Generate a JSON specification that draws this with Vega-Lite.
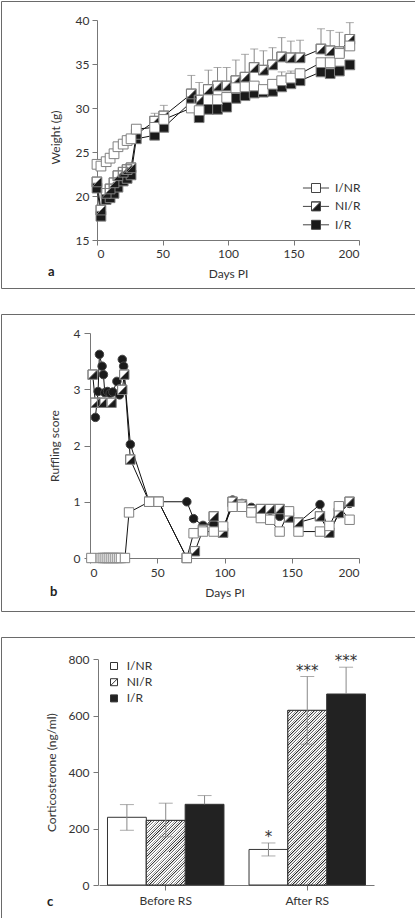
{
"$schema": "https://vega.github.io/schema/vega-lite/v6.json",
"padding": 0,
"background": "white",
"spacing": 24,
"resolve": {"scale": {"fill": "independent", "shape": "independent"}, "legend": {"fill": "independent", "shape": "independent"}},
"config": {
 "font": "Lato",
 "view": {"stroke": "#6a6a6a", "strokeWidth": 1},
 "axis": {"domainColor": "#777", "tickColor": "#777", "labelColor": "#333", "titleColor": "#333", "labelFontSize": 12, "titleFontSize": 12, "titleFontWeight": "normal", "grid": false, "labelFont": "Lato", "titleFont": "Lato"},
 "legend": {"labelFont": "Lato", "labelColor": "#333"},
 "title": {"font": "Lato"},
 "text": {"font": "Lato"}
},
"datasets": {
 "aw": [
  {"day":0,"g":"I/R","v":20.9},{"day":3,"g":"I/R","v":17.7},{"day":7,"g":"I/R","v":19.6},{"day":10,"g":"I/R","v":19.8},{"day":13,"g":"I/R","v":20.3},{"day":16,"g":"I/R","v":21.0},{"day":20,"g":"I/R","v":21.7},{"day":23,"g":"I/R","v":22.0},{"day":26,"g":"I/R","v":22.4},{"day":30,"g":"I/R","v":26.5},{"day":44,"g":"I/R","v":26.9},{"day":51,"g":"I/R","v":27.8},{"day":72,"g":"I/R","v":30.7},{"day":78,"g":"I/R","v":28.9},{"day":85,"g":"I/R","v":29.85},{"day":92,"g":"I/R","v":29.85},{"day":99,"g":"I/R","v":30.1},{"day":106,"g":"I/R","v":31.1},{"day":113,"g":"I/R","v":31.4},{"day":120,"g":"I/R","v":31.7},{"day":127,"g":"I/R","v":31.8},{"day":134,"g":"I/R","v":31.9},{"day":141,"g":"I/R","v":32.4},{"day":148,"g":"I/R","v":32.75},{"day":155,"g":"I/R","v":33.1},{"day":171,"g":"I/R","v":34.1},{"day":178,"g":"I/R","v":33.9},{"day":185,"g":"I/R","v":34.2},{"day":193,"g":"I/R","v":34.9},
  {"day":0,"g":"NI/R","v":21.6},{"day":3,"g":"NI/R","v":18.4},{"day":7,"g":"NI/R","v":20.3},{"day":10,"g":"NI/R","v":20.8},{"day":13,"g":"NI/R","v":21.5},{"day":16,"g":"NI/R","v":22.3},{"day":20,"g":"NI/R","v":22.7},{"day":23,"g":"NI/R","v":23.0},{"day":26,"g":"NI/R","v":23.2},{"day":30,"g":"NI/R","v":27.0},{"day":44,"g":"NI/R","v":28.5},{"day":51,"g":"NI/R","v":29.1},{"day":72,"g":"NI/R","v":31.6},{"day":78,"g":"NI/R","v":30.9},{"day":85,"g":"NI/R","v":32.1},{"day":92,"g":"NI/R","v":32.5},{"day":99,"g":"NI/R","v":32.5},{"day":106,"g":"NI/R","v":33.1},{"day":113,"g":"NI/R","v":33.5},{"day":120,"g":"NI/R","v":34.6},{"day":127,"g":"NI/R","v":34.3},{"day":134,"g":"NI/R","v":34.9},{"day":141,"g":"NI/R","v":35.8},{"day":148,"g":"NI/R","v":35.7},{"day":155,"g":"NI/R","v":35.7},{"day":171,"g":"NI/R","v":36.7},{"day":178,"g":"NI/R","v":36.5},{"day":185,"g":"NI/R","v":36.4},{"day":193,"g":"NI/R","v":37.8},
  {"day":0,"g":"I/NR","v":23.6},{"day":3,"g":"I/NR","v":23.4},{"day":7,"g":"I/NR","v":23.9},{"day":10,"g":"I/NR","v":24.3},{"day":13,"g":"I/NR","v":24.8},{"day":16,"g":"I/NR","v":25.6},{"day":20,"g":"I/NR","v":25.9},{"day":23,"g":"I/NR","v":26.3},{"day":26,"g":"I/NR","v":26.5},{"day":30,"g":"I/NR","v":27.6},{"day":44,"g":"I/NR","v":27.8},{"day":51,"g":"I/NR","v":28.7},{"day":72,"g":"I/NR","v":30.0},{"day":78,"g":"I/NR","v":29.7},{"day":85,"g":"I/NR","v":30.95},{"day":92,"g":"I/NR","v":30.95},{"day":99,"g":"I/NR","v":31.2},{"day":106,"g":"I/NR","v":32.3},{"day":113,"g":"I/NR","v":32.4},{"day":120,"g":"I/NR","v":32.5},{"day":127,"g":"I/NR","v":32.1},{"day":134,"g":"I/NR","v":32.7},{"day":141,"g":"I/NR","v":33.1},{"day":148,"g":"I/NR","v":33.4},{"day":155,"g":"I/NR","v":33.9},{"day":171,"g":"I/NR","v":35.15},{"day":178,"g":"I/NR","v":35.15},{"day":185,"g":"I/NR","v":36.2},{"day":193,"g":"I/NR","v":37.05}
 ],
 "aerr": [
  {"day":44,"g":"NI/R","v":28.5,"hi":29.4},{"day":51,"g":"NI/R","v":29.1,"hi":30.3},{"day":72,"g":"NI/R","v":31.6,"hi":33.7},{"day":78,"g":"NI/R","v":30.9,"hi":32.9},{"day":85,"g":"NI/R","v":32.1,"hi":34.3},{"day":92,"g":"NI/R","v":32.5,"hi":34.6},{"day":99,"g":"NI/R","v":32.5,"hi":34.6},{"day":106,"g":"NI/R","v":33.1,"hi":35.45},{"day":113,"g":"NI/R","v":33.5,"hi":36.1},{"day":120,"g":"NI/R","v":34.6,"hi":36.7},{"day":127,"g":"NI/R","v":34.3,"hi":36.5},{"day":134,"g":"NI/R","v":34.9,"hi":36.85},{"day":141,"g":"NI/R","v":35.8,"hi":38.0},{"day":148,"g":"NI/R","v":35.7,"hi":37.6},{"day":155,"g":"NI/R","v":35.7,"hi":37.7},{"day":171,"g":"NI/R","v":36.7,"hi":39.0},{"day":178,"g":"NI/R","v":36.5,"hi":38.8},{"day":185,"g":"NI/R","v":36.4,"hi":38.6},{"day":193,"g":"NI/R","v":37.8,"hi":39.7},
  {"day":141,"g":"I/NR","v":33.1,"hi":34.1},{"day":148,"g":"I/NR","v":33.4,"hi":34.2},{"day":155,"g":"I/NR","v":33.9,"hi":34.4}
 ],
 "bw": [
  {"day":4,"g":"I/R","v":2.5},{"day":6,"g":"I/R","v":2.96},{"day":7,"g":"I/R","v":3.62},{"day":9,"g":"I/R","v":3.41},{"day":10,"g":"I/R","v":3.26},{"day":11,"g":"I/R","v":2.94},{"day":13,"g":"I/R","v":2.96},{"day":15,"g":"I/R","v":2.93},{"day":17,"g":"I/R","v":2.95},{"day":20,"g":"I/R","v":3.14},{"day":22,"g":"I/R","v":2.9},{"day":24,"g":"I/R","v":3.53},{"day":25,"g":"I/R","v":3.41},{"day":30,"g":"I/R","v":2.02},{"day":44,"g":"I/R","v":1.0},{"day":51,"g":"I/R","v":1.0},{"day":72,"g":"I/R","v":1.0},{"day":77,"g":"I/R","v":0.7},{"day":84,"g":"I/R","v":0.58},{"day":92,"g":"I/R","v":0.6},{"day":99,"g":"I/R","v":0.5},{"day":106,"g":"I/R","v":1.03},{"day":113,"g":"I/R","v":0.97},{"day":120,"g":"I/R","v":0.9},{"day":127,"g":"I/R","v":0.85},{"day":134,"g":"I/R","v":0.85},{"day":141,"g":"I/R","v":0.74},{"day":148,"g":"I/R","v":0.72},{"day":155,"g":"I/R","v":0.63},{"day":171,"g":"I/R","v":0.95},{"day":178,"g":"I/R","v":0.45},{"day":185,"g":"I/R","v":0.79},{"day":193,"g":"I/R","v":0.97},
  {"day":2,"g":"NI/R","v":3.26},{"day":4,"g":"NI/R","v":2.76},{"day":9,"g":"NI/R","v":2.76},{"day":16,"g":"NI/R","v":2.76},{"day":24,"g":"NI/R","v":2.99},{"day":25.5,"g":"NI/R","v":3.26},{"day":30,"g":"NI/R","v":1.75},{"day":44,"g":"NI/R","v":1.0},{"day":51,"g":"NI/R","v":1.0},{"day":72,"g":"NI/R","v":0},{"day":78,"g":"NI/R","v":0.12},{"day":84,"g":"NI/R","v":0.5},{"day":92,"g":"NI/R","v":0.74},{"day":99,"g":"NI/R","v":0.45},{"day":106,"g":"NI/R","v":1.0},{"day":113,"g":"NI/R","v":0.95},{"day":120,"g":"NI/R","v":0.85},{"day":127,"g":"NI/R","v":0.87},{"day":134,"g":"NI/R","v":0.87},{"day":141,"g":"NI/R","v":0.87},{"day":148,"g":"NI/R","v":0.72},{"day":155,"g":"NI/R","v":0.63},{"day":171,"g":"NI/R","v":0.74},{"day":178,"g":"NI/R","v":0.45},{"day":185,"g":"NI/R","v":0.8},{"day":193,"g":"NI/R","v":1.0},
  {"day":1,"g":"I/NR","v":0},{"day":8,"g":"I/NR","v":0},{"day":9.5,"g":"I/NR","v":0},{"day":11,"g":"I/NR","v":0},{"day":12.5,"g":"I/NR","v":0},{"day":14,"g":"I/NR","v":0},{"day":15.5,"g":"I/NR","v":0},{"day":17,"g":"I/NR","v":0},{"day":18.5,"g":"I/NR","v":0},{"day":20,"g":"I/NR","v":0},{"day":21.5,"g":"I/NR","v":0},{"day":23,"g":"I/NR","v":0},{"day":26,"g":"I/NR","v":0},{"day":29,"g":"I/NR","v":0.81},{"day":44,"g":"I/NR","v":1.0},{"day":51,"g":"I/NR","v":1.0},{"day":72,"g":"I/NR","v":0},{"day":77,"g":"I/NR","v":0.44},{"day":84,"g":"I/NR","v":0.47},{"day":92,"g":"I/NR","v":0.47},{"day":99,"g":"I/NR","v":0.56},{"day":106,"g":"I/NR","v":0.91},{"day":113,"g":"I/NR","v":0.91},{"day":120,"g":"I/NR","v":0.81},{"day":127,"g":"I/NR","v":0.71},{"day":134,"g":"I/NR","v":0.68},{"day":141,"g":"I/NR","v":0.47},{"day":148,"g":"I/NR","v":0.83},{"day":155,"g":"I/NR","v":0.47},{"day":171,"g":"I/NR","v":0.47},{"day":178,"g":"I/NR","v":0.57},{"day":185,"g":"I/NR","v":0.92},{"day":193,"g":"I/NR","v":0.68}
 ],
 "cw": [
  {"cond":"Before RS","g":"I/NR","v":240,"lo":194,"hi":285},
  {"cond":"Before RS","g":"NI/R","v":229,"lo":171,"hi":290},
  {"cond":"Before RS","g":"I/R","v":286,"lo":286,"hi":317},
  {"cond":"After RS","g":"I/NR","v":126,"lo":103,"hi":149,"sig":"*"},
  {"cond":"After RS","g":"NI/R","v":619,"lo":499,"hi":739,"sig":"***"},
  {"cond":"After RS","g":"I/R","v":677,"lo":677,"hi":772,"sig":"***"}
 ]
},
"vconcat": [
 {
  "width": 414, "height": 287,
  "title": {"text": "a", "orient": "bottom", "anchor": "start", "frame": "group", "offset": -12, "dx": 47, "baseline": "alphabetic", "fontSize": 13, "fontWeight": "bold", "color": "#222"},
  "encoding": {
   "x": {"field": "day", "type": "quantitative", "scale": {"domain": [0, 200], "range": [96, 358], "nice": false, "zero": false}, "axis": {"title": "Days PI", "values": [0, 50, 100, 150, 200], "offset": -48, "tickSize": 5, "labelPadding": 3, "titleY": 33, "titleBaseline": "middle"}},
   "y": {"field": "v", "type": "quantitative", "scale": {"domain": [15, 40], "range": [239, 19], "nice": false, "zero": false}, "axis": {"title": "Weight (g)", "values": [15, 20, 25, 30, 35, 40], "offset": -96, "tickSize": 5, "labelPadding": 3, "titleX": -42, "titleY": 136, "titleBaseline": "middle"}}
  },
  "layer": [
   {"data": {"name": "aerr"}, "mark": {"type": "rule", "color": "#888", "strokeWidth": 1}, "encoding": {"y2": {"field": "hi"}}},
   {"data": {"name": "aerr"}, "mark": {"type": "tick", "orient": "horizontal", "color": "#888", "size": 8, "thickness": 1}, "encoding": {"y": {"field": "hi", "type": "quantitative"}}},
   {"data": {"name": "aw"}, "mark": {"type": "line", "color": "#111", "strokeWidth": 1}, "encoding": {"detail": {"field": "g"}}},
   {"data": {"name": "aw"}, "transform": [{"filter": "datum.g === 'NI/R'"}], "mark": {"type": "point", "shape": "square", "filled": true, "color": "#ffffff", "size": 95, "opacity": 1}, "encoding": {}},
   {"data": {"name": "aw"}, "mark": {"type": "point", "filled": true, "size": 95, "stroke": "#808080", "strokeWidth": 1, "opacity": 1},
    "encoding": {
     "shape": {"field": "g", "type": "nominal", "scale": {"domain": ["NI/R", "I/NR", "I/R"], "range": ["M-1,-1L1,-1L1,1L-1,1ZM-1,-1L-1,1L1,-1Z", "square", "square"]}, "legend": null},
     "fill": {"field": "g", "type": "nominal", "scale": {"domain": ["I/NR", "NI/R", "I/R"], "range": ["#ffffff", "#1a1a1a", "#1a1a1a"]},
      "legend": {"orient": "none", "legendX": 309, "legendY": 181, "title": null, "symbolType": {"expr": "datum.value === 'NI/R' ? 'M-2.9,0L-1,0M1,0L2.9,0M-1,-1L1,-1L1,1L-1,1ZM-1,-1L-1,1L1,-1Z' : 'M-2.9,0L-1,0M1,0L2.9,0M-1,-1L1,-1L1,1L-1,1Z'"}, "symbolSize": 81, "symbolStrokeColor": "#444", "symbolStrokeWidth": 1, "symbolOpacity": 1, "labelFontSize": 12, "labelOffset": 13, "rowPadding": 4.4, "padding": 0}}
    }},
   {"data": {"values": [{}]}, "mark": {"type": "rule", "color": "#888", "strokeWidth": 1.5}, "encoding": {"x": {"datum": -2.5}, "x2": {"datum": 30.3}, "y": {"datum": 12.42}}}
  ]
 },
 {
  "width": 414, "height": 297,
  "title": {"text": "b", "orient": "bottom", "anchor": "start", "frame": "group", "offset": -15, "dx": 49, "baseline": "alphabetic", "fontSize": 13, "fontWeight": "bold", "color": "#222"},
  "encoding": {
   "x": {"field": "day", "type": "quantitative", "scale": {"domain": [0, 200], "range": [89, 358], "nice": false, "zero": false}, "axis": {"title": "Days PI", "values": [0, 50, 100, 150, 200], "offset": -53, "tickSize": 5, "labelPadding": 4.5, "titleY": 34, "titleBaseline": "middle"}},
   "y": {"field": "v", "type": "quantitative", "scale": {"domain": [0, 4], "range": [244, 19], "nice": false, "zero": false}, "axis": {"title": "Ruffling score", "values": [0, 1, 2, 3, 4], "offset": -89, "tickSize": 6, "labelPadding": 4, "titleX": -36, "titleBaseline": "middle"}}
  },
  "layer": [
   {"data": {"name": "bw"}, "mark": {"type": "line", "color": "#111", "strokeWidth": 1}, "encoding": {"detail": {"field": "g"}}},
   {"data": {"name": "bw"}, "transform": [{"filter": "datum.g === 'I/R'"}], "mark": {"type": "point", "shape": "circle", "filled": true, "color": "#1a1a1a", "stroke": "#444", "strokeWidth": 1, "size": 72, "opacity": 1}, "encoding": {}},
   {"data": {"name": "bw"}, "transform": [{"filter": "datum.g === 'NI/R'"}], "mark": {"type": "point", "shape": "square", "filled": true, "color": "#ffffff", "size": 88, "opacity": 1}, "encoding": {}},
   {"data": {"name": "bw"}, "transform": [{"filter": "datum.g !== 'I/R'"}], "mark": {"type": "point", "filled": true, "size": 88, "stroke": "#808080", "strokeWidth": 1, "opacity": 1},
    "encoding": {
     "shape": {"field": "g", "type": "nominal", "scale": {"domain": ["I/NR", "NI/R"], "range": ["square", "M-1,-1L1,-1L1,1L-1,1ZM-1,-1L-1,1L1,-1Z"]}, "legend": null},
     "fill": {"field": "g", "type": "nominal", "scale": {"domain": ["I/NR", "NI/R"], "range": ["#ffffff", "#1a1a1a"]}, "legend": null}
    }},
   {"data": {"values": [{}]}, "mark": {"type": "rule", "color": "#888", "strokeWidth": 1.5}, "encoding": {"x": {"datum": -5.4}, "x2": {"datum": 27.5}, "y": {"datum": -0.343}}}
  ]
 },
 {
  "width": 414, "height": 285,
  "data": {"name": "cw"},
  "title": {"text": "c", "orient": "bottom", "anchor": "start", "frame": "group", "offset": -16.5, "dx": 46, "baseline": "alphabetic", "fontSize": 13, "fontWeight": "bold", "color": "#222"},
  "encoding": {
   "x": {"field": "cond", "type": "nominal", "sort": ["Before RS", "After RS"], "scale": {"range": [98, 373], "paddingInner": 0.177, "paddingOuter": 0.06}, "axis": {"title": null, "labelAngle": 0, "offset": -37, "tickSize": 5, "labelPadding": 5, "labelFontSize": 12}},
   "xOffset": {"field": "g", "type": "nominal", "sort": ["I/NR", "NI/R", "I/R"], "scale": {"domain": ["I/NR", "NI/R", "I/R"], "paddingInner": 0, "paddingOuter": 0}},
   "y": {"field": "v", "type": "quantitative", "scale": {"domain": [0, 800], "range": [248, 22.3], "nice": false, "zero": true}, "axis": {"title": "Corticosterone (ng/ml)", "values": [0, 200, 400, 600, 800], "offset": -97, "tickSize": 5, "labelPadding": 4, "titleX": -47, "titleBaseline": "middle", "labelFontSize": 12, "titleFontSize": 12}}
  },
  "layer": [
   {"mark": {"type": "bar", "stroke": "#333", "strokeWidth": 1},
    "encoding": {"fill": {"field": "g", "type": "nominal", "scale": {"domain": ["I/NR", "NI/R", "I/R"], "range": ["#ffffff", "#ffffff", "#222222"]},
     "legend": {"orient": "none", "legendX": 107, "legendY": 23, "title": null, "symbolType": {"expr": "datum.value === 'NI/R' ? 'M-1,-1L1,-1L1,1L-1,1ZM-1,1L1,-1' : 'square'"}, "symbolSize": 49, "symbolStrokeColor": "#333", "symbolStrokeWidth": 1, "symbolOpacity": 1, "labelFontSize": 12, "labelOffset": 6.7, "rowPadding": 4.2, "padding": 0}}}},
   {"transform": [{"filter": "datum.g === 'NI/R' && datum.cond === 'Before RS'"}],
    "mark": {"type": "bar", "stroke": "#333", "strokeWidth": 1, "fill": {"gradient": "linear", "x1": 0, "y1": 0, "x2": 0.7068, "y2": 1.1758, "stops": [
{"offset":0,"color":"#222"},{"offset":0.014,"color":"#fff"},{"offset":0.025,"color":"#fff"},
{"offset":0.025,"color":"#222"},{"offset":0.039,"color":"#fff"},{"offset":0.05,"color":"#fff"},
{"offset":0.05,"color":"#222"},{"offset":0.064,"color":"#fff"},{"offset":0.075,"color":"#fff"},
{"offset":0.075,"color":"#222"},{"offset":0.089,"color":"#fff"},{"offset":0.1,"color":"#fff"},
{"offset":0.1,"color":"#222"},{"offset":0.114,"color":"#fff"},{"offset":0.125,"color":"#fff"},
{"offset":0.125,"color":"#222"},{"offset":0.139,"color":"#fff"},{"offset":0.15,"color":"#fff"},
{"offset":0.15,"color":"#222"},{"offset":0.164,"color":"#fff"},{"offset":0.175,"color":"#fff"},
{"offset":0.175,"color":"#222"},{"offset":0.189,"color":"#fff"},{"offset":0.2,"color":"#fff"},
{"offset":0.2,"color":"#222"},{"offset":0.214,"color":"#fff"},{"offset":0.225,"color":"#fff"},
{"offset":0.225,"color":"#222"},{"offset":0.239,"color":"#fff"},{"offset":0.25,"color":"#fff"},
{"offset":0.25,"color":"#222"},{"offset":0.264,"color":"#fff"},{"offset":0.275,"color":"#fff"},
{"offset":0.275,"color":"#222"},{"offset":0.289,"color":"#fff"},{"offset":0.3,"color":"#fff"},
{"offset":0.3,"color":"#222"},{"offset":0.314,"color":"#fff"},{"offset":0.325,"color":"#fff"},
{"offset":0.325,"color":"#222"},{"offset":0.339,"color":"#fff"},{"offset":0.35,"color":"#fff"},
{"offset":0.35,"color":"#222"},{"offset":0.364,"color":"#fff"},{"offset":0.375,"color":"#fff"},
{"offset":0.375,"color":"#222"},{"offset":0.389,"color":"#fff"},{"offset":0.4,"color":"#fff"},
{"offset":0.4,"color":"#222"},{"offset":0.414,"color":"#fff"},{"offset":0.425,"color":"#fff"},
{"offset":0.425,"color":"#222"},{"offset":0.439,"color":"#fff"},{"offset":0.45,"color":"#fff"},
{"offset":0.45,"color":"#222"},{"offset":0.464,"color":"#fff"},{"offset":0.475,"color":"#fff"},
{"offset":0.475,"color":"#222"},{"offset":0.489,"color":"#fff"},{"offset":0.5,"color":"#fff"},
{"offset":0.5,"color":"#222"},{"offset":0.514,"color":"#fff"},{"offset":0.525,"color":"#fff"},
{"offset":0.525,"color":"#222"},{"offset":0.539,"color":"#fff"},{"offset":0.55,"color":"#fff"},
{"offset":0.55,"color":"#222"},{"offset":0.564,"color":"#fff"},{"offset":0.575,"color":"#fff"},
{"offset":0.575,"color":"#222"},{"offset":0.589,"color":"#fff"},{"offset":0.6,"color":"#fff"},
{"offset":0.6,"color":"#222"},{"offset":0.614,"color":"#fff"},{"offset":0.625,"color":"#fff"},
{"offset":0.625,"color":"#222"},{"offset":0.639,"color":"#fff"},{"offset":0.65,"color":"#fff"},
{"offset":0.65,"color":"#222"},{"offset":0.664,"color":"#fff"},{"offset":0.675,"color":"#fff"},
{"offset":0.675,"color":"#222"},{"offset":0.689,"color":"#fff"},{"offset":0.7,"color":"#fff"},
{"offset":0.7,"color":"#222"},{"offset":0.714,"color":"#fff"},{"offset":0.725,"color":"#fff"},
{"offset":0.725,"color":"#222"},{"offset":0.739,"color":"#fff"},{"offset":0.75,"color":"#fff"},
{"offset":0.75,"color":"#222"},{"offset":0.764,"color":"#fff"},{"offset":0.775,"color":"#fff"},
{"offset":0.775,"color":"#222"},{"offset":0.789,"color":"#fff"},{"offset":0.8,"color":"#fff"},
{"offset":0.8,"color":"#222"},{"offset":0.814,"color":"#fff"},{"offset":0.825,"color":"#fff"},
{"offset":0.825,"color":"#222"},{"offset":0.839,"color":"#fff"},{"offset":0.85,"color":"#fff"},
{"offset":0.85,"color":"#222"},{"offset":0.864,"color":"#fff"},{"offset":0.875,"color":"#fff"},
{"offset":0.875,"color":"#222"},{"offset":0.889,"color":"#fff"},{"offset":0.9,"color":"#fff"},
{"offset":0.9,"color":"#222"},{"offset":0.914,"color":"#fff"},{"offset":0.925,"color":"#fff"},
{"offset":0.925,"color":"#222"},{"offset":0.939,"color":"#fff"},{"offset":0.95,"color":"#fff"},
{"offset":0.95,"color":"#222"},{"offset":0.964,"color":"#fff"},{"offset":0.975,"color":"#fff"},
{"offset":0.975,"color":"#222"},{"offset":0.989,"color":"#fff"},{"offset":1,"color":"#fff"}
    ]}}},
   {"transform": [{"filter": "datum.g === 'NI/R' && datum.cond === 'After RS'"}],
    "mark": {"type": "bar", "stroke": "#333", "strokeWidth": 1, "fill": {"gradient": "linear", "x1": 0, "y1": 0, "x2": 0.259, "y2": 1.1646, "stops": [
{"offset":0,"color":"#222"},{"offset":0.007,"color":"#fff"},{"offset":0.0125,"color":"#fff"},
{"offset":0.0125,"color":"#222"},{"offset":0.0195,"color":"#fff"},{"offset":0.025,"color":"#fff"},
{"offset":0.025,"color":"#222"},{"offset":0.032,"color":"#fff"},{"offset":0.0375,"color":"#fff"},
{"offset":0.0375,"color":"#222"},{"offset":0.0445,"color":"#fff"},{"offset":0.05,"color":"#fff"},
{"offset":0.05,"color":"#222"},{"offset":0.057,"color":"#fff"},{"offset":0.0625,"color":"#fff"},
{"offset":0.0625,"color":"#222"},{"offset":0.0695,"color":"#fff"},{"offset":0.075,"color":"#fff"},
{"offset":0.075,"color":"#222"},{"offset":0.082,"color":"#fff"},{"offset":0.0875,"color":"#fff"},
{"offset":0.0875,"color":"#222"},{"offset":0.0945,"color":"#fff"},{"offset":0.1,"color":"#fff"},
{"offset":0.1,"color":"#222"},{"offset":0.107,"color":"#fff"},{"offset":0.1125,"color":"#fff"},
{"offset":0.1125,"color":"#222"},{"offset":0.1195,"color":"#fff"},{"offset":0.125,"color":"#fff"},
{"offset":0.125,"color":"#222"},{"offset":0.132,"color":"#fff"},{"offset":0.1375,"color":"#fff"},
{"offset":0.1375,"color":"#222"},{"offset":0.1445,"color":"#fff"},{"offset":0.15,"color":"#fff"},
{"offset":0.15,"color":"#222"},{"offset":0.157,"color":"#fff"},{"offset":0.1625,"color":"#fff"},
{"offset":0.1625,"color":"#222"},{"offset":0.1695,"color":"#fff"},{"offset":0.175,"color":"#fff"},
{"offset":0.175,"color":"#222"},{"offset":0.182,"color":"#fff"},{"offset":0.1875,"color":"#fff"},
{"offset":0.1875,"color":"#222"},{"offset":0.1945,"color":"#fff"},{"offset":0.2,"color":"#fff"},
{"offset":0.2,"color":"#222"},{"offset":0.207,"color":"#fff"},{"offset":0.2125,"color":"#fff"},
{"offset":0.2125,"color":"#222"},{"offset":0.2195,"color":"#fff"},{"offset":0.225,"color":"#fff"},
{"offset":0.225,"color":"#222"},{"offset":0.232,"color":"#fff"},{"offset":0.2375,"color":"#fff"},
{"offset":0.2375,"color":"#222"},{"offset":0.2445,"color":"#fff"},{"offset":0.25,"color":"#fff"},
{"offset":0.25,"color":"#222"},{"offset":0.257,"color":"#fff"},{"offset":0.2625,"color":"#fff"},
{"offset":0.2625,"color":"#222"},{"offset":0.2695,"color":"#fff"},{"offset":0.275,"color":"#fff"},
{"offset":0.275,"color":"#222"},{"offset":0.282,"color":"#fff"},{"offset":0.2875,"color":"#fff"},
{"offset":0.2875,"color":"#222"},{"offset":0.2945,"color":"#fff"},{"offset":0.3,"color":"#fff"},
{"offset":0.3,"color":"#222"},{"offset":0.307,"color":"#fff"},{"offset":0.3125,"color":"#fff"},
{"offset":0.3125,"color":"#222"},{"offset":0.3195,"color":"#fff"},{"offset":0.325,"color":"#fff"},
{"offset":0.325,"color":"#222"},{"offset":0.332,"color":"#fff"},{"offset":0.3375,"color":"#fff"},
{"offset":0.3375,"color":"#222"},{"offset":0.3445,"color":"#fff"},{"offset":0.35,"color":"#fff"},
{"offset":0.35,"color":"#222"},{"offset":0.357,"color":"#fff"},{"offset":0.3625,"color":"#fff"},
{"offset":0.3625,"color":"#222"},{"offset":0.3695,"color":"#fff"},{"offset":0.375,"color":"#fff"},
{"offset":0.375,"color":"#222"},{"offset":0.382,"color":"#fff"},{"offset":0.3875,"color":"#fff"},
{"offset":0.3875,"color":"#222"},{"offset":0.3945,"color":"#fff"},{"offset":0.4,"color":"#fff"},
{"offset":0.4,"color":"#222"},{"offset":0.407,"color":"#fff"},{"offset":0.4125,"color":"#fff"},
{"offset":0.4125,"color":"#222"},{"offset":0.4195,"color":"#fff"},{"offset":0.425,"color":"#fff"},
{"offset":0.425,"color":"#222"},{"offset":0.432,"color":"#fff"},{"offset":0.4375,"color":"#fff"},
{"offset":0.4375,"color":"#222"},{"offset":0.4445,"color":"#fff"},{"offset":0.45,"color":"#fff"},
{"offset":0.45,"color":"#222"},{"offset":0.457,"color":"#fff"},{"offset":0.4625,"color":"#fff"},
{"offset":0.4625,"color":"#222"},{"offset":0.4695,"color":"#fff"},{"offset":0.475,"color":"#fff"},
{"offset":0.475,"color":"#222"},{"offset":0.482,"color":"#fff"},{"offset":0.4875,"color":"#fff"},
{"offset":0.4875,"color":"#222"},{"offset":0.4945,"color":"#fff"},{"offset":0.5,"color":"#fff"},
{"offset":0.5,"color":"#222"},{"offset":0.507,"color":"#fff"},{"offset":0.5125,"color":"#fff"},
{"offset":0.5125,"color":"#222"},{"offset":0.5195,"color":"#fff"},{"offset":0.525,"color":"#fff"},
{"offset":0.525,"color":"#222"},{"offset":0.532,"color":"#fff"},{"offset":0.5375,"color":"#fff"},
{"offset":0.5375,"color":"#222"},{"offset":0.5445,"color":"#fff"},{"offset":0.55,"color":"#fff"},
{"offset":0.55,"color":"#222"},{"offset":0.557,"color":"#fff"},{"offset":0.5625,"color":"#fff"},
{"offset":0.5625,"color":"#222"},{"offset":0.5695,"color":"#fff"},{"offset":0.575,"color":"#fff"},
{"offset":0.575,"color":"#222"},{"offset":0.582,"color":"#fff"},{"offset":0.5875,"color":"#fff"},
{"offset":0.5875,"color":"#222"},{"offset":0.5945,"color":"#fff"},{"offset":0.6,"color":"#fff"},
{"offset":0.6,"color":"#222"},{"offset":0.607,"color":"#fff"},{"offset":0.6125,"color":"#fff"},
{"offset":0.6125,"color":"#222"},{"offset":0.6195,"color":"#fff"},{"offset":0.625,"color":"#fff"},
{"offset":0.625,"color":"#222"},{"offset":0.632,"color":"#fff"},{"offset":0.6375,"color":"#fff"},
{"offset":0.6375,"color":"#222"},{"offset":0.6445,"color":"#fff"},{"offset":0.65,"color":"#fff"},
{"offset":0.65,"color":"#222"},{"offset":0.657,"color":"#fff"},{"offset":0.6625,"color":"#fff"},
{"offset":0.6625,"color":"#222"},{"offset":0.6695,"color":"#fff"},{"offset":0.675,"color":"#fff"},
{"offset":0.675,"color":"#222"},{"offset":0.682,"color":"#fff"},{"offset":0.6875,"color":"#fff"},
{"offset":0.6875,"color":"#222"},{"offset":0.6945,"color":"#fff"},{"offset":0.7,"color":"#fff"},
{"offset":0.7,"color":"#222"},{"offset":0.707,"color":"#fff"},{"offset":0.7125,"color":"#fff"},
{"offset":0.7125,"color":"#222"},{"offset":0.7195,"color":"#fff"},{"offset":0.725,"color":"#fff"},
{"offset":0.725,"color":"#222"},{"offset":0.732,"color":"#fff"},{"offset":0.7375,"color":"#fff"},
{"offset":0.7375,"color":"#222"},{"offset":0.7445,"color":"#fff"},{"offset":0.75,"color":"#fff"},
{"offset":0.75,"color":"#222"},{"offset":0.757,"color":"#fff"},{"offset":0.7625,"color":"#fff"},
{"offset":0.7625,"color":"#222"},{"offset":0.7695,"color":"#fff"},{"offset":0.775,"color":"#fff"},
{"offset":0.775,"color":"#222"},{"offset":0.782,"color":"#fff"},{"offset":0.7875,"color":"#fff"},
{"offset":0.7875,"color":"#222"},{"offset":0.7945,"color":"#fff"},{"offset":0.8,"color":"#fff"},
{"offset":0.8,"color":"#222"},{"offset":0.807,"color":"#fff"},{"offset":0.8125,"color":"#fff"},
{"offset":0.8125,"color":"#222"},{"offset":0.8195,"color":"#fff"},{"offset":0.825,"color":"#fff"},
{"offset":0.825,"color":"#222"},{"offset":0.832,"color":"#fff"},{"offset":0.8375,"color":"#fff"},
{"offset":0.8375,"color":"#222"},{"offset":0.8445,"color":"#fff"},{"offset":0.85,"color":"#fff"},
{"offset":0.85,"color":"#222"},{"offset":0.857,"color":"#fff"},{"offset":0.8625,"color":"#fff"},
{"offset":0.8625,"color":"#222"},{"offset":0.8695,"color":"#fff"},{"offset":0.875,"color":"#fff"},
{"offset":0.875,"color":"#222"},{"offset":0.882,"color":"#fff"},{"offset":0.8875,"color":"#fff"},
{"offset":0.8875,"color":"#222"},{"offset":0.8945,"color":"#fff"},{"offset":0.9,"color":"#fff"},
{"offset":0.9,"color":"#222"},{"offset":0.907,"color":"#fff"},{"offset":0.9125,"color":"#fff"},
{"offset":0.9125,"color":"#222"},{"offset":0.9195,"color":"#fff"},{"offset":0.925,"color":"#fff"},
{"offset":0.925,"color":"#222"},{"offset":0.932,"color":"#fff"},{"offset":0.9375,"color":"#fff"},
{"offset":0.9375,"color":"#222"},{"offset":0.9445,"color":"#fff"},{"offset":0.95,"color":"#fff"},
{"offset":0.95,"color":"#222"},{"offset":0.957,"color":"#fff"},{"offset":0.9625,"color":"#fff"},
{"offset":0.9625,"color":"#222"},{"offset":0.9695,"color":"#fff"},{"offset":0.975,"color":"#fff"},
{"offset":0.975,"color":"#222"},{"offset":0.982,"color":"#fff"},{"offset":0.9875,"color":"#fff"},
{"offset":0.9875,"color":"#222"},{"offset":0.9945,"color":"#fff"},{"offset":1,"color":"#fff"}
    ]}}},
   {"mark": {"type": "rule", "color": "#888", "strokeWidth": 1}, "encoding": {"y": {"field": "lo", "type": "quantitative"}, "y2": {"field": "hi"}}},
   {"mark": {"type": "tick", "orient": "horizontal", "color": "#888", "size": 14, "thickness": 1}, "encoding": {"y": {"field": "hi", "type": "quantitative"}}},
   {"transform": [{"filter": "datum.g !== 'I/R'"}], "mark": {"type": "tick", "orient": "horizontal", "color": "#888", "size": 14, "thickness": 1}, "encoding": {"y": {"field": "lo", "type": "quantitative"}}},
   {"transform": [{"filter": "isValid(datum.sig)"}], "mark": {"type": "text", "font": "DejaVu Sans", "fontSize": 15, "color": "#333", "baseline": "alphabetic", "dy": -1}, "encoding": {"y": {"field": "hi", "type": "quantitative"}, "text": {"field": "sig"}}}
  ]
 }
]
}
